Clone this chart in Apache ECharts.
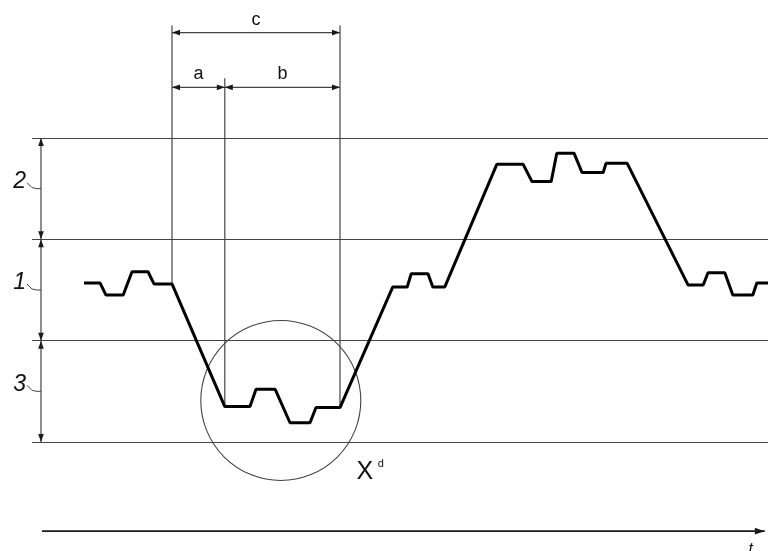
<!DOCTYPE html>
<html>
<head>
<meta charset="utf-8">
<script src="https://cdn.jsdelivr.net/npm/echarts@6/dist/echarts.min.js"></script>
<style>
html, body { margin: 0; background: #fff; }
#chart { width: 768px; height: 551px; }
</style>
</head>
<body>
<div id="chart"></div>
<script>
// signal trace: time (x units) and level (y units, band edges at 0..3)
const traceTime = [10.5, 12.5, 13.25, 15.4, 16.5, 18.5, 19.25, 21.5, 28.1, 31.25,
  32, 34.4, 36.25, 38.75, 39.5, 42.5, 49.1, 50.9, 51.4, 53.5,
  54.1, 55.6, 62.1, 65.4, 66.5, 68.9, 69.6, 71.75, 72.75, 75.4,
  75.75, 78.4, 86, 87.9, 88.5, 90.6, 91.6, 94.1, 94.6, 96]
const traceLevel = [1.57, 1.57, 1.45, 1.45, 1.68, 1.68, 1.56, 1.56, 0.35, 0.35,
  0.52, 0.52, 0.19, 0.19, 0.34, 0.34, 1.53, 1.53, 1.66, 1.66,
  1.53, 1.53, 2.74, 2.74, 2.57, 2.57, 2.85, 2.85, 2.66, 2.66,
  2.75, 2.75, 1.55, 1.55, 1.67, 1.67, 1.45, 1.45, 1.57, 1.57]

// bands between horizontal lines (bottom to top)
const bandEdges = [0, 1, 2, 3]
const bandNames = ['3', '1', '2']
const bandArrowTime = 5.125

// dimension lines c, a, b
const dimNames = ['c', 'a', 'b']
const dimFrom = [21.5, 21.5, 28.1]
const dimTo = [42.5, 28.1, 42.5]
const dimLevel = [4.04, 3.5, 3.5]

// extension lines for the dimensions
const witnessTime = [21.5, 28.1, 42.5]
const witnessFrom = [1.56, 0.35, 0.34]
const witnessTo = [4.11, 3.59, 4.11]

// detail circle X^d
const detailCenter = [35.1, 0.41]
const detailRadius = 10
const detailLabel = [45.6, -0.3]

// time axis arrow
const timeAxis = [5.25, 95.6, -0.88]

const INK = '#1a1a1a'
const THIN = '#444'
const FONT = '"Liberation Sans", Arial, sans-serif'

function arrowHead (tip, from, len, half) {
  let dx = tip[0] - from[0]
  let dy = tip[1] - from[1]
  let d = Math.hypot(dx, dy) || 1
  let ux = dx / d
  let uy = dy / d
  let bx = tip[0] - ux * len
  let by = tip[1] - uy * len
  return {
    type: 'polygon',
    shape: { points: [tip, [bx - uy * half, by + ux * half], [bx + uy * half, by - ux * half]] },
    style: { fill: INK }
  }
}

function segment (p1, p2, color, width) {
  return {
    type: 'line',
    shape: { x1: p1[0], y1: p1[1], x2: p2[0], y2: p2[1] },
    style: { stroke: color, lineWidth: width }
  }
}

let myChart = echarts.init(document.getElementById('chart'))
let option = {
  animation: false,
  backgroundColor: '#fff',
  grid: { left: 32, right: 0, top: 138, bottom: 109 },
  xAxis: {
    type: 'value',
    min: 4,
    max: 96,
    show: false
  },
  yAxis: {
    type: 'value',
    min: bandEdges[0],
    max: bandEdges[bandEdges.length - 1],
    interval: 1,
    axisLine: { show: false },
    axisTick: { show: false },
    axisLabel: { show: false },
    splitLine: { show: true, lineStyle: { color: THIN, width: 1.2 } }
  },
  series: [
    {
      // band height arrows with labels 3, 1, 2
      type: 'custom',
      data: bandNames.map((n, i) => [bandArrowTime, bandEdges[i], bandEdges[i + 1]]),
      renderItem (params, api) {
        let lo = api.coord([api.value(0), api.value(1)])
        let hi = api.coord([api.value(0), api.value(2)])
        let mid = [lo[0], (lo[1] + hi[1]) / 2]
        return {
          type: 'group',
          children: [
            segment(lo, hi, THIN, 1.2),
            arrowHead(lo, hi, 8, 2.8),
            arrowHead(hi, lo, 8, 2.8),
            {
              type: 'polyline',
              shape: { points: [[mid[0] - 14, mid[1] - 6], [mid[0] - 9, mid[1] - 1], [mid[0] - 4, mid[1]], [mid[0], mid[1]]] },
              style: { stroke: THIN, lineWidth: 1, fill: null }
            },
            {
              type: 'text',
              x: mid[0] - 15,
              y: mid[1] - 7,
              style: { text: bandNames[params.dataIndex], font: 'italic 23px ' + FONT, fill: '#111', align: 'right', verticalAlign: 'middle' }
            }
          ]
        }
      }
    },
    {
      // extension lines
      type: 'custom',
      data: witnessTime.map((t, i) => [t, witnessFrom[i], witnessTo[i]]),
      renderItem (params, api) {
        let p1 = api.coord([api.value(0), api.value(1)])
        let p2 = api.coord([api.value(0), api.value(2)])
        return segment(p1, p2, THIN, 1.2)
      }
    },
    {
      // dimension lines a, b, c
      type: 'custom',
      data: dimNames.map((n, i) => [dimFrom[i], dimTo[i], dimLevel[i]]),
      renderItem (params, api) {
        let p1 = api.coord([api.value(0), api.value(2)])
        let p2 = api.coord([api.value(1), api.value(2)])
        return {
          type: 'group',
          children: [
            segment(p1, p2, THIN, 1.2),
            arrowHead(p1, p2, 8, 2.8),
            arrowHead(p2, p1, 8, 2.8),
            {
              type: 'text',
              x: (p1[0] + p2[0]) / 2,
              y: p1[1] - 13,
              style: { text: dimNames[params.dataIndex], font: '18px ' + FONT, fill: '#111', align: 'center', verticalAlign: 'middle' }
            }
          ]
        }
      }
    },
    {
      // detail circle and its label
      type: 'custom',
      data: [[detailCenter[0], detailCenter[1], detailLabel[0], detailLabel[1]]],
      renderItem (params, api) {
        let c = api.coord([api.value(0), api.value(1)])
        let r = api.size([detailRadius, 0])[0]
        let l = api.coord([api.value(2), api.value(3)])
        return {
          type: 'group',
          children: [
            {
              type: 'circle',
              shape: { cx: c[0], cy: c[1], r: r },
              style: { fill: null, stroke: THIN, lineWidth: 1.1 }
            },
            {
              type: 'text',
              x: l[0],
              y: l[1],
              style: { text: 'X', font: '25px ' + FONT, fill: '#111', align: 'center', verticalAlign: 'middle' }
            },
            {
              type: 'text',
              x: l[0] + 13,
              y: l[1] - 8,
              style: { text: 'd', font: '11px ' + FONT, fill: '#111', align: 'left', verticalAlign: 'middle' }
            }
          ]
        }
      }
    },
    {
      // time axis
      type: 'custom',
      data: [timeAxis],
      renderItem (params, api) {
        let p1 = api.coord([api.value(0), api.value(2)])
        let p2 = api.coord([api.value(1), api.value(2)])
        return {
          type: 'group',
          children: [
            segment(p1, p2, INK, 1.6),
            arrowHead(p2, p1, 10, 3.4),
            {
              type: 'text',
              x: p2[0] - 14,
              y: p2[1] + 10,
              style: { text: 't', font: 'italic 16px ' + FONT, fill: '#111', align: 'center', verticalAlign: 'top' }
            }
          ]
        }
      }
    },
    {
      // signal trace
      type: 'line',
      data: traceTime.map((t, i) => [t, traceLevel[i]]),
      symbol: 'none',
      lineStyle: { color: '#000', width: 3 },
      z: 5
    }
  ]
}
myChart.setOption(option)
</script>
</body>
</html>
